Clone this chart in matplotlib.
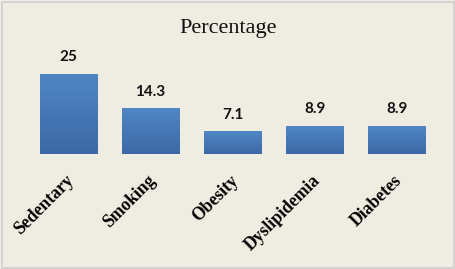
import matplotlib
matplotlib.use("Agg")
import matplotlib.pyplot as plt
import numpy as np
from matplotlib.patches import Rectangle
from matplotlib.colors import LinearSegmentedColormap
from matplotlib.transforms import ScaledTranslation

categories = ["Sedentary", "Smoking", "Obesity", "Dyslipidemia", "Diabetes"]
values = [25, 14.3, 7.1, 8.9, 8.9]
value_labels = ["25", "14.3", "7.1", "8.9", "8.9"]

bg = "#EFECE1"
fig = plt.figure(figsize=(4.56, 2.69), dpi=100, facecolor=bg)
fig.patches.append(Rectangle((0.004, 0.004), 0.992, 0.99, transform=fig.transFigure,
                             fill=False, edgecolor="#CFCFCF", linewidth=1.2))

ax = fig.add_axes([0.060, 0.4275, 0.900, 0.357])
ax.set_facecolor("none")
x = np.arange(len(categories))
bars = ax.bar(x, values, width=0.7, color="#4A7BB7", edgecolor="#5B8CC8", linewidth=0.6, zorder=2)

# vertical gradient on bars
grad = np.linspace(0, 1, 100).reshape(-1, 1)
cmap = LinearSegmentedColormap.from_list("g", ["#3C69A6", "#5086C4"])
for b in bars:
    x0, y0 = b.get_x(), b.get_y()
    w, h = b.get_width(), b.get_height()
    im = ax.imshow(grad, extent=[x0, x0 + w, y0, y0 + h], origin="lower",
                   cmap=cmap, aspect="auto", zorder=2.5)
    im.set_clip_path(b)

for xi, v, lab in zip(x, values, value_labels):
    ax.annotate(lab, (xi, v), xytext=(0, 7), textcoords="offset points",
                ha="center", va="bottom", fontsize=11, fontweight="bold",
                family=["Lato", "DejaVu Sans"], color="#111111")

ax.set_xlim(-0.5, 4.5)
ax.set_ylim(0, 30)
ax.set_yticks([])
ax.set_xticks(x)
ax.set_xticklabels(categories, rotation=45, ha="right", va="top", rotation_mode="anchor",
                   fontsize=12.7, fontweight="bold", family="Liberation Serif")
ax.tick_params(axis="x", length=0, pad=13)
shift = ScaledTranslation(-3 / 100, 0, fig.dpi_scale_trans)
for t in ax.get_xticklabels():
    t.set_transform(t.get_transform() + shift)
for s in ax.spines.values():
    s.set_visible(False)

fig.text(0.5, 0.893, "Percentage", ha="center", va="center", fontsize=16,
         family="Liberation Serif", color="#111111")

fig.savefig("out.png", dpi=100, facecolor=bg)
